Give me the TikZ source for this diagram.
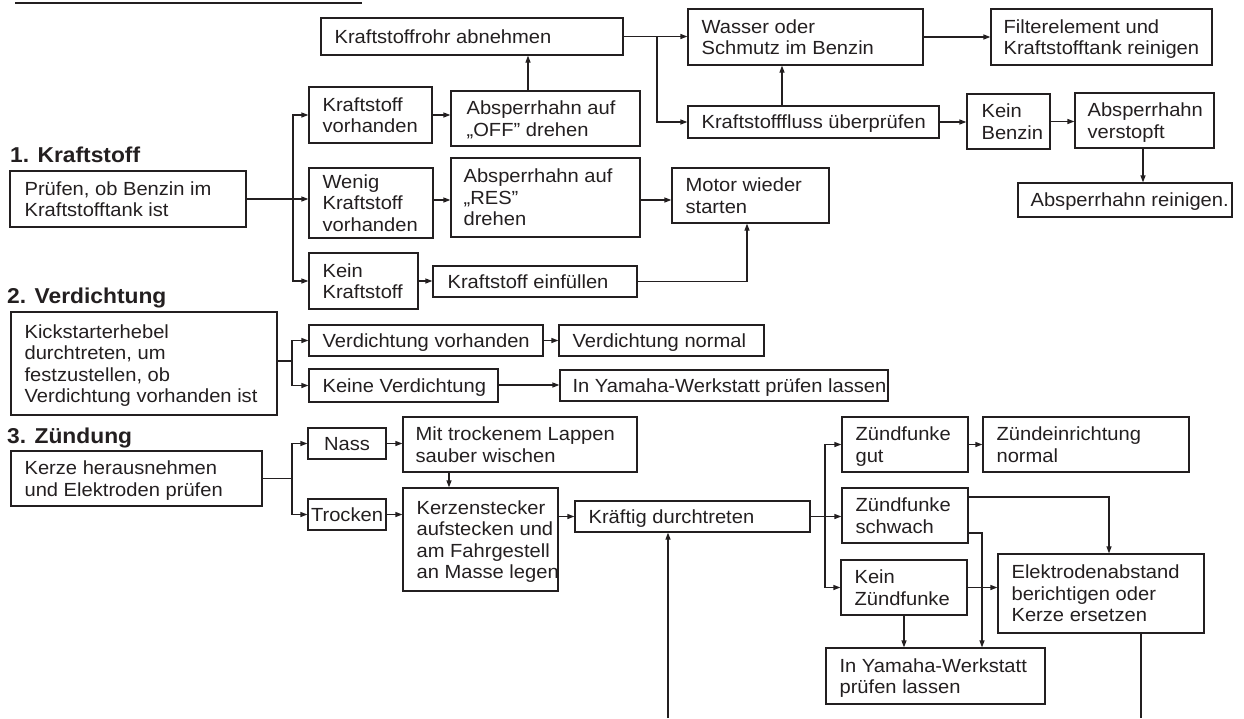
\documentclass[tikz,border=0pt]{standalone}
\usepackage{fontspec}
\setmainfont{Liberation Sans}[FakeStretch=1.06]
\usetikzlibrary{arrows.meta}
\definecolor{ink}{HTML}{231F20}
\tikzset{
 box/.style={draw=ink, line width=1.25pt, inner sep=0pt, rectangle},
 txt/.style={inner sep=0pt, align=left, text=ink, font=\fontsize{19}{21.5}\selectfont},
 ctxt/.style={txt, align=center},
 head/.style={inner sep=0pt, text=ink, font=\fontsize{21.5}{24}\selectfont\bfseries},
 arr/.style={draw=ink, line width=1.25pt, -{Triangle[length=7pt,width=5pt]}},
 ln/.style={draw=ink, line width=1.25pt},
 rulebar/.style={draw=ink, line width=2.8pt},
}
\newcommand\tpst{\rule{0pt}{17.8pt}}
\newcommand\btst{\rule[-4.2pt]{0pt}{4.2pt}}
% #1 padding, #2 name, #3 x1, #4 y1, #5 x2, #6 y2, #7 text
\newcommand\flowbox[7][14]{%
 \pgfmathsetmacro\fbw{#5-#3}\pgfmathsetmacro\fbh{#6-#4}%
 \pgfmathsetmacro\fbcx{(#3+#5)/2}\pgfmathsetmacro\fbcy{(#4+#6)/2}%
 \node[box,minimum width=\fbw pt,minimum height=\fbh pt] (#2) at (\fbcx,\fbcy) {};%
 \node[txt,anchor=west] (#2-t) at ([xshift=#1pt]#2.west) {\tpst#7\btst};}
\newcommand\flowcbox[6]{%
 \pgfmathsetmacro\fbw{#4-#2}\pgfmathsetmacro\fbh{#5-#3}%
 \pgfmathsetmacro\fbcx{(#2+#4)/2}\pgfmathsetmacro\fbcy{(#3+#5)/2}%
 \node[box,minimum width=\fbw pt,minimum height=\fbh pt] (#1) at (\fbcx,\fbcy) {};%
 \node[ctxt] (#1-t) at (#1.center) {\tpst#6\btst};}
\begin{document}
\begin{tikzpicture}[x=1pt,y=-1pt]
\useasboundingbox (0,0) rectangle (1244,718);
\draw[rulebar] (15,3) -- (362,3);

% headings
\node[head,anchor=base west] (h1) at (10,162) {1. Kraftstoff};
\node[head,anchor=base west] (h2) at (7,303) {2. Verdichtung};
\node[head,anchor=base west] (h3) at (7,443) {3. Zündung};

% 1. Kraftstoff
\flowbox{kr}{321}{18}{623}{55}{Kraftstoffrohr abnehmen}
\flowbox{was}{688}{9}{923}{65}{Wasser oder\\Schmutz im Benzin}
\flowbox[13]{fil}{991}{9}{1212}{65}{Filterelement und\\Kraftstofftank reinigen}
\flowbox{fl}{688}{106}{939}{138}{Kraftstofffluss überprüfen}
\flowbox[15]{kb}{967}{94}{1050}{149}{Kein\\Benzin}
\flowbox[13]{av}{1075}{93}{1214}{148}{Absperrhahn\\verstopft}
\flowbox[13]{ar}{1018}{183}{1232}{217}{Absperrhahn reinigen.}
\flowbox{kv}{309}{87}{432}{143}{Kraftstoff\\vorhanden}
\flowbox[16]{off}{451}{91}{640}{146}{Absperrhahn auf\\„OFF” drehen}
\flowbox[15]{pr}{10}{171}{246}{227}{Prüfen, ob Benzin im\\Kraftstofftank ist}
\flowbox{wk}{309}{168}{433}{238}{Wenig\\Kraftstoff\\vorhanden}
\flowbox[13]{res}{451}{158}{640}{237}{Absperrhahn auf\\„RES”\\drehen}
\flowbox{mo}{672}{168}{829}{223}{Motor wieder\\starten}
\flowbox{kk}{309}{253}{418}{309}{Kein\\Kraftstoff}
\flowbox[15]{ke}{433}{266}{637}{297}{Kraftstoff einfüllen}

% 2. Verdichtung
\flowbox{ks}{11}{312}{277}{415}{Kickstarterhebel\\durchtreten, um\\festzustellen, ob\\Verdichtung vorhanden ist}
\flowbox{vv}{309}{325}{543}{356}{Verdichtung vorhanden}
\flowbox{vn}{559}{325}{764}{356}{Verdichtung normal}
\flowbox{kvd}{309}{369}{498}{402}{Keine Verdichtung}
\flowbox[13]{y1}{560}{370}{888}{401}{In Yamaha-Werkstatt prüfen lassen}

% 3. Zuendung
\flowbox{kz}{11}{451}{262}{506}{Kerze herausnehmen\\und Elektroden prüfen}
\flowcbox{nass}{308}{428}{386}{459}{Nass}
\flowcbox{tr}{308}{499}{386}{530}{Trocken}
\flowbox[13]{mit}{403}{417}{637}{472}{Mit trockenem Lappen\\sauber wischen}
\flowbox{kst}{403}{488}{558}{591}{Kerzenstecker\\aufstecken und\\am Fahrgestell\\an Masse legen}
\flowbox{kd}{575}{501}{810}{532}{Kräftig durchtreten}
\flowbox{zg}{842}{417}{968}{472}{Zündfunke\\gut}
\flowbox{zn}{983}{417}{1189}{472}{Zündeinrichtung\\normal}
\flowbox{zs}{842}{488}{968}{543}{Zündfunke\\schwach}
\flowbox{kzf}{841}{560}{967}{615}{Kein\\Zündfunke}
\flowbox{el}{998}{554}{1204}{633}{Elektrodenabstand\\berichtigen oder\\Kerze ersetzen}
\flowbox{y2}{826}{648}{1045}{704}{In Yamaha-Werkstatt\\prüfen lassen}

\coordinate (b1) at (668,718);
\coordinate (b2) at (1141,718);

% connectors: Kraftstoff
\draw[ln] (pr.east) -- (293,0 |- pr.east) coordinate (j1);
\draw[arr] (j1) |- (kv.west);
\draw[arr] (j1) -- (wk.west |- j1);
\draw[arr] (j1) |- (kk.west);
\draw[arr] (kv.east) -- (off.west |- kv.east);
\draw[arr] (528,0 |- off.north) -- (528,0 |- kr.south);
\draw[ln] (kr.east) -- (657,0 |- kr.east) coordinate (j2);
\draw[arr] (j2) -- (was.west |- j2);
\draw[arr] (j2) |- (fl.west);
\draw[arr] (782,0 |- fl.north) -- (782,0 |- was.south);
\draw[arr] (was.east) -- (fil.west |- was.east);
\draw[arr] (fl.east) -- (kb.west |- fl.east);
\draw[arr] (kb.east) -- (av.west |- kb.east);
\draw[arr] (1143,0 |- av.south) -- (1143,0 |- ar.north);
\draw[arr] (wk.east |- 0,200) -- (res.west |- 0,200);
\draw[arr] (res.east |- 0,200) -- (mo.west |- 0,200);
\draw[arr] (kk.east) -- (ke.west |- kk.east);
\draw[arr] (ke.east) -| (747,0 |- mo.south);

% connectors: Verdichtung
\draw[ln] (ks.east |- 0,361) -- (292,361) coordinate (j3);
\draw[arr] (j3) |- (vv.west);
\draw[arr] (j3) |- (kvd.west);
\draw[arr] (vv.east) -- (vn.west |- vv.east);
\draw[arr] (kvd.east |- 0,385) -- (y1.west |- 0,385);

% connectors: Zuendung
\draw[ln] (kz.east) -- (292,0 |- kz.east) coordinate (j4);
\draw[arr] (j4) |- (nass.west);
\draw[arr] (j4) |- (tr.west);
\draw[arr] (nass.east) -- (mit.west |- nass.east);
\draw[arr] (tr.east) -- (kst.west |- tr.east);
\draw[arr] (449,0 |- mit.south) -- (449,0 |- kst.north);
\draw[arr] (kst.east |- kd.west) -- (kd.west);
\draw[ln] (kd.east) -- (825,0 |- kd.east) coordinate (j5);
\draw[arr] (j5) |- (zg.west);
\draw[arr] (j5) -- (zs.west |- j5);
\draw[arr] (j5) |- (kzf.west);
\draw[arr] (zg.east) -- (zn.west |- zg.east);
\draw[arr] (zs.east |- 0,497) -| (1109,0 |- el.north);
\draw[arr] (zs.east |- 0,533) -| (982,0 |- y2.north);
\draw[arr] (kzf.east) -- (el.west |- kzf.east);
\draw[arr] (904,0 |- kzf.south) -- (904,0 |- y2.north);
\draw[ln] (1141,0 |- el.south) -- (b2);
\draw[arr] (b1) -- (668,0 |- kd.south);
\end{tikzpicture}
\end{document}
